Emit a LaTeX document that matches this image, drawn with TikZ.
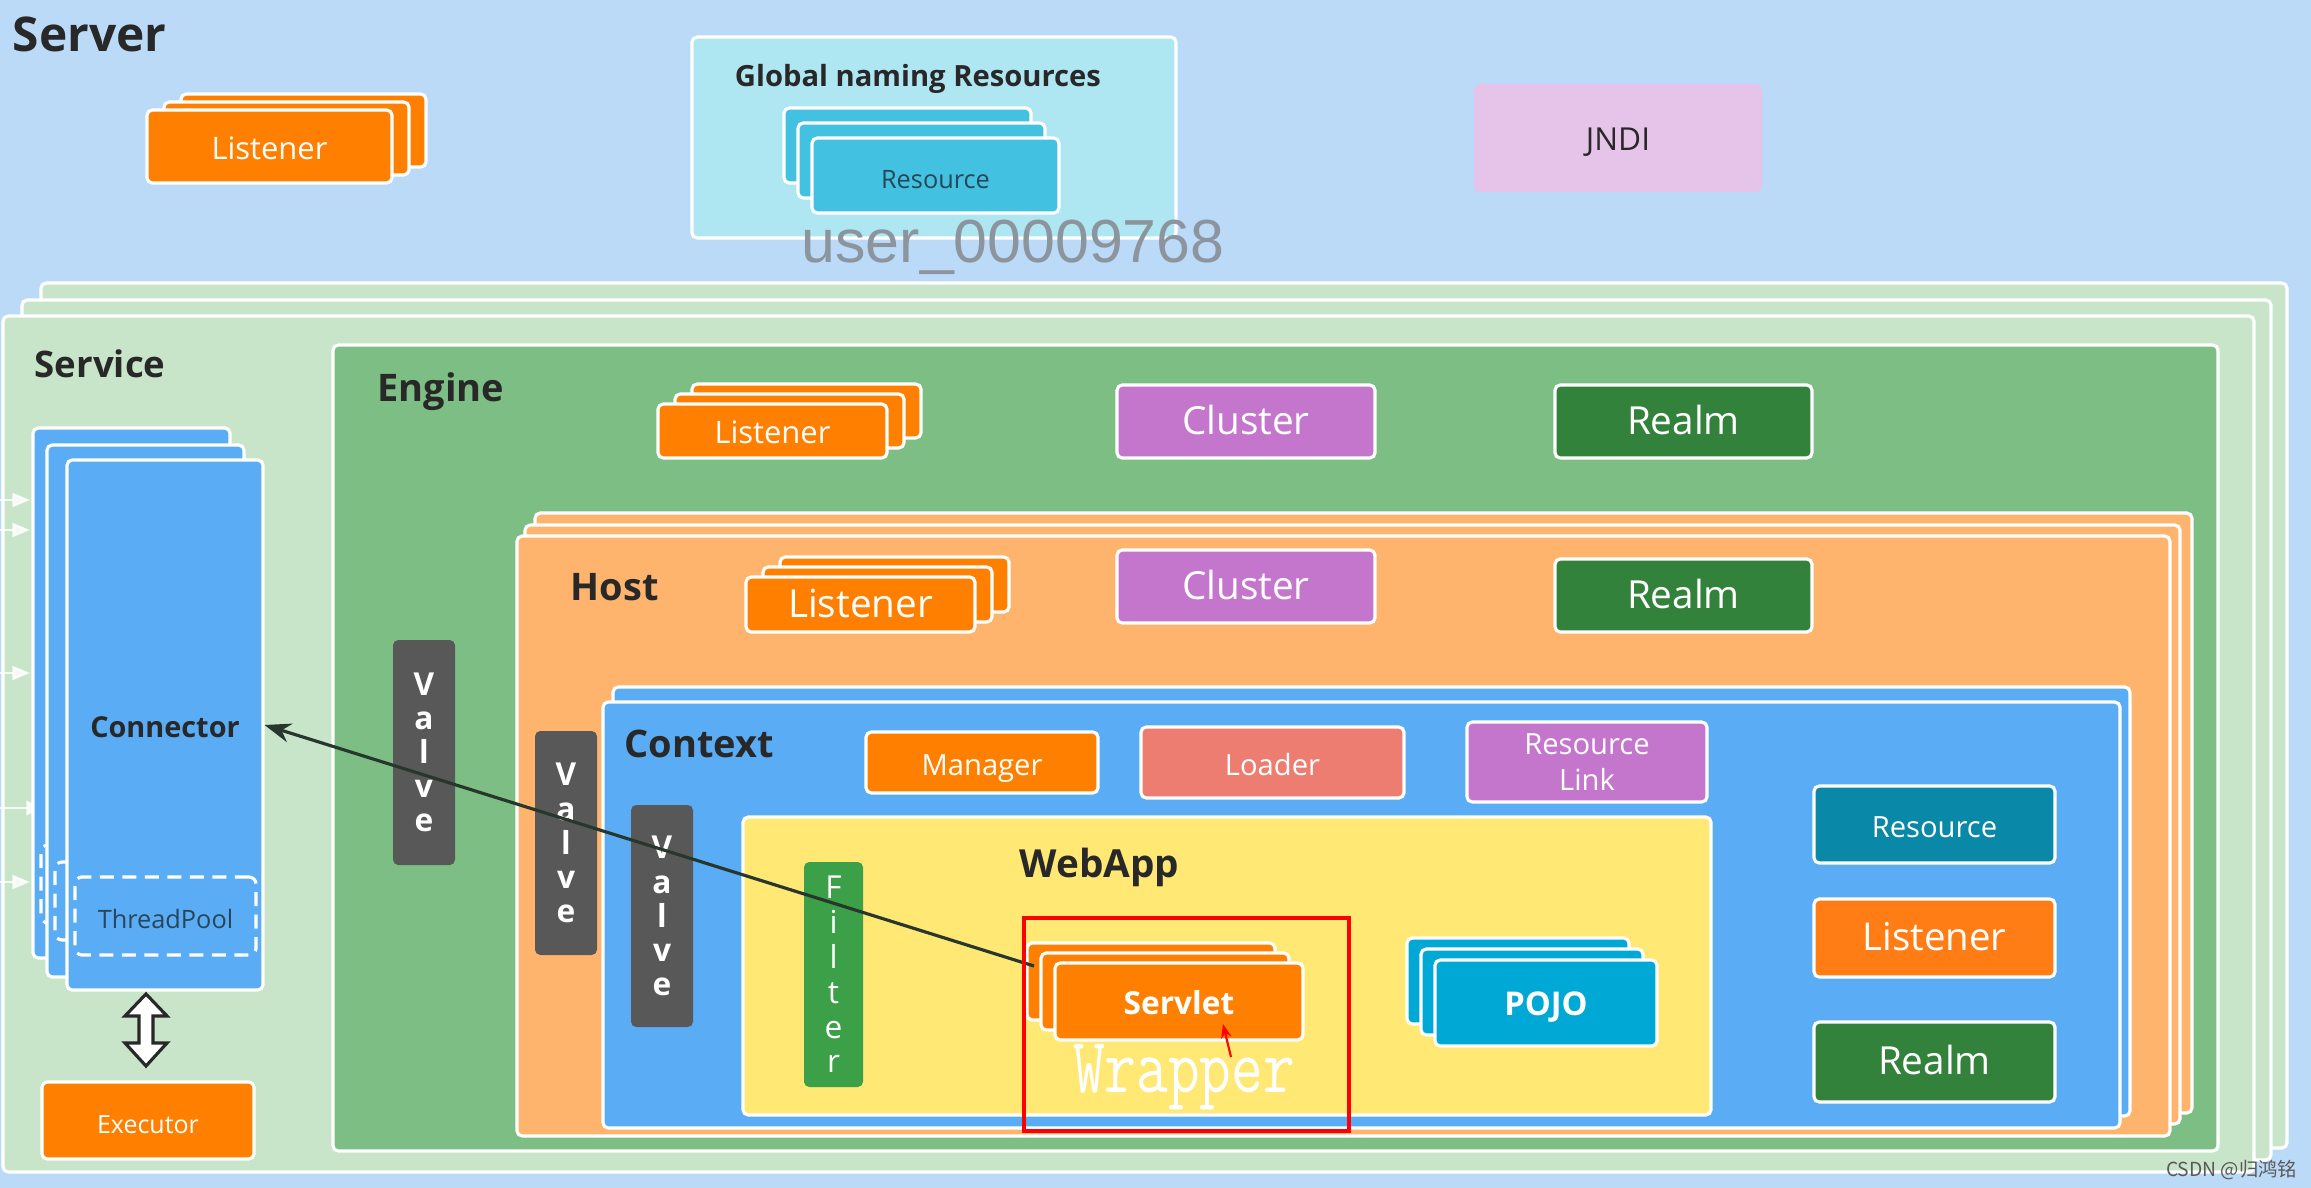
\documentclass[tikz,border=0pt]{standalone}
\usepackage{fontspec}
\setmainfont{Open Sans}
\newfontfamily\wmfont{Liberation Sans}
\newfontfamily\cjkfont{Noto Sans CJK SC}
\usetikzlibrary{fit,arrows.meta}
\definecolor{bgblue}{RGB}{186,218,248}
\definecolor{gnr}{RGB}{174,230,242}
\definecolor{rescyan}{RGB}{66,194,224}
\definecolor{jndi}{RGB}{230,196,234}
\definecolor{svcg}{RGB}{200,228,201}
\definecolor{engg}{RGB}{125,190,132}
\definecolor{hosto}{RGB}{255,180,110}
\definecolor{ctxb}{RGB}{90,172,245}
\definecolor{webapp}{RGB}{255,232,115}
\definecolor{orng}{RGB}{255,128,0}
\definecolor{purp}{RGB}{195,118,204}
\definecolor{realmg}{RGB}{50,130,60}
\definecolor{loaderc}{RGB}{236,125,112}
\definecolor{tealc}{RGB}{10,136,168}
\definecolor{lisr}{RGB}{255,125,20}
\definecolor{valveg}{RGB}{88,88,88}
\definecolor{filterg}{RGB}{60,160,72}
\definecolor{pojoc}{RGB}{0,168,214}
\definecolor{ttlc}{RGB}{40,40,40}
\definecolor{arrowc}{RGB}{40,55,45}
\definecolor{wmgray}{RGB}{140,148,158}
\definecolor{restext}{RGB}{40,70,90}
\newcommand\myfs[1]{\fontsize{#1}{#1}\selectfont}
% box with separate centred label
\newcommand\tbox[8]{%
 \node[#2, fit={(#3,#4) (#5,#6)}] (#1) {};
 \node[lbl, #7] (#1-t) at (#1.center) {#8};}
% stack of three boxes, label on the front one
\newcommand\mystack[9]{%
 \node[#2, fit={({#3+2*(#7)},{#4+2*(#8)}) ({#5+2*(#7)},{#6+2*(#8)})}] (#1-c) {};
 \node[#2, fit={({#3+#7},{#4+#8}) ({#5+#7},{#6+#8})}] (#1-b) {};
 \node[#2, fit={(#3,#4) (#5,#6)}] (#1) {};
 \node[lbl, #9] (#1-t) at (#1.center) {\tikzstacktext};}
\newcommand\connlayer[5]{%
 \node[connbox, fit={(#2,#3) (#4,#5)}] (#1) {};
 \node[tpbox, fit={({#2+8},{#3+417}) ({#2+189},{#3+495})}] (#1-tp) {};}
\begin{document}
\begin{tikzpicture}[x=0.01cm,y=-0.01cm,
  bx/.style={draw=white, line width=0.9pt, rounded corners=1.5pt, inner sep=0pt},
  lbl/.style={inner sep=0pt, text=white, align=center, text height=0.714em, text depth=0pt},
  multi/.style={text height={}, text depth={}},
  obox/.style={bx, fill=orng},
  cyanbox/.style={bx, fill=rescyan},
  purplebox/.style={bx, fill=purp},
  realmbox/.style={bx, fill=realmg},
  svcbox/.style={bx, fill=svcg},
  connbox/.style={bx, fill=ctxb},
  tpbox/.style={draw=white, line width=0.9pt, dash pattern=on 4pt off 2.4pt, rounded corners=2pt, inner sep=0pt},
  hostbox/.style={bx, fill=hosto},
  ctxbox/.style={bx, fill=ctxb},
  valvebox/.style={bx, draw=none, fill=valveg},
  valvetext/.style={multi, font=\bfseries\fontsize{9}{9.7}\selectfont},
  ttl/.style={text=ttlc, anchor=base west, inner sep=0pt, font=\bfseries\myfs{10.8}},
  bigarr/.style={draw=arrowc, line width=0.9pt, -{Stealth[length=7.5pt,width=5.5pt]}},
  edgearr/.style={draw=white, line width=0.6pt, opacity=0.85, -{Triangle[length=5pt,width=4pt]}}
]
\useasboundingbox (0,0) rectangle (2311,1188);
\fill[bgblue] (0,0) rectangle (2311,1188);

% Server level
\node[ttl, font=\bfseries\myfs{13.6}] (server) at (12,52) {Server};
\def\tikzstacktext{Listener}
\mystack{slis}{obox}{147}{110}{392}{183}{17}{-8}{font=\myfs{8.8}}
\node[bx, fill=gnr, fit={(692,37) (1176,238)}] (gnr) {};
\node[ttl, anchor=base, font=\bfseries\myfs{8.3}] (gnrt) at (918,87) {Global naming Resources};
\def\tikzstacktext{Resource}
\mystack{gres}{cyanbox}{812}{138}{1059}{213}{-14}{-15}{font=\myfs{7.2}, text=restext}
\tbox{jndi}{bx, draw=none, fill=jndi}{1474}{84}{1762}{192}{font=\myfs{9}, text=ttlc}{JNDI}

% Service layers
\node[svcbox, fit={(41,283) (2287,1148)}] (svc-c) {};
\node[svcbox, fit={(22,300) (2271,1160)}] (svc-b) {};
\node[svcbox, fit={(3,316) (2254,1172)}] (svc) {};
\node[ttl, font=\bfseries\myfs{10.4}] (svct) at (34,377) {Service};

% edge arrows
\foreach \yy/\xx [count=\i] in {500/30,530/30,673/30,808/44,882/30}{
  \coordinate (ea\i) at (0,\yy);
  \coordinate (eb\i) at (\xx,\yy);
  \draw[edgearr] (ea\i) -- (eb\i);
}

% Connector stack
\connlayer{conn-c}{33}{428}{230}{958}
\connlayer{conn-b}{47}{445}{244}{977}
\tbox{conn}{connbox}{67}{460}{263}{990}{font=\bfseries\myfs{8.2}, text=ttlc}{Connector}
\tbox{tp}{tpbox}{75}{877}{256}{955}{font=\myfs{7.2}, text=restext}{ThreadPool}
\tbox{exec}{obox}{42}{1082}{254}{1159}{font=\myfs{7.1}}{Executor}
\draw[fill=white, draw=ttlc, line width=0.9pt, line join=miter]
  (146,994) -- (167,1016) -- (153,1016) -- (153,1043) -- (167,1043) -- (146,1066)
  -- (125,1043) -- (139,1043) -- (139,1016) -- (125,1016) -- cycle;

% Engine
\node[bx, fill=engg, fit={(333,345) (2218,1151)}] (engine) {};
\node[ttl] (enginet) at (377,402) {Engine};
\def\tikzstacktext{Listener}
\mystack{elis}{obox}{658}{404}{887}{458}{17}{-10}{font=\myfs{8.8}}
\tbox{ecl}{purplebox}{1117}{385}{1375}{458}{font=\myfs{11}}{Cluster}
\tbox{erealm}{realmbox}{1555}{385}{1812}{458}{font=\myfs{11}}{Realm}
\tbox{ev}{valvebox}{393}{640}{455}{865}{valvetext}{V\\a\\l\\v\\e}

% Host
\node[hostbox, fit={(535,513) (2192,1113)}] (host-c) {};
\node[hostbox, fit={(525,525) (2180,1124)}] (host-b) {};
\node[hostbox, fit={(517,536) (2170,1136)}] (host) {};
\node[ttl] (hostt) at (570,600) {Host};
\mystack{hlis}{obox}{746}{577}{975}{632}{17}{-10}{font=\myfs{11}}
\tbox{hcl}{purplebox}{1117}{550}{1375}{623}{font=\myfs{11}}{Cluster}
\tbox{hrealm}{realmbox}{1555}{559}{1812}{632}{font=\myfs{11}}{Realm}
\tbox{hv}{valvebox}{535}{731}{597}{955}{valvetext}{V\\a\\l\\v\\e}

% Context
\node[ctxbox, fit={(613,687) (2130,1116)}] (ctx-b) {};
\node[ctxbox, fit={(603,702) (2120,1128)}] (ctx) {};
\node[ttl] (ctxt) at (624,757) {Context};
\tbox{cv}{valvebox}{631}{805}{693}{1027}{valvetext}{V\\a\\l\\v\\e}
\tbox{mgr}{obox}{866}{732}{1098}{793}{font=\myfs{8.3}}{Manager}
\tbox{ldr}{bx, fill=loaderc}{1141}{727}{1404}{798}{font=\myfs{8.3}}{Loader}
\tbox{rlink}{purplebox}{1467}{722}{1707}{802}{multi, font=\fontsize{8.3}{10}\selectfont}{Resource\\Link}
\tbox{cres}{bx, fill=tealc}{1814}{786}{2055}{863}{font=\myfs{8.3}}{Resource}
\tbox{clis}{bx, fill=lisr}{1814}{899}{2055}{977}{font=\myfs{10.9}}{Listener}
\tbox{crealm}{realmbox}{1814}{1022}{2055}{1102}{font=\myfs{11}}{Realm}

% WebApp
\node[bx, fill=webapp, fit={(743,817) (1711,1115)}] (webapp) {};
\node[ttl, font=\bfseries\myfs{11}] (webappt) at (1019,877) {WebApp};
\tbox{filter}{bx, draw=none, fill=filterg}{804}{862}{863}{1087}{multi, font=\fontsize{9}{9.9}\selectfont}{F\\i\\l\\t\\e\\r}
\def\tikzstacktext{Servlet}
\mystack{srv}{obox}{1055}{963}{1303}{1040}{-14}{-10}{font=\bfseries\myfs{9}}
\def\tikzstacktext{POJO}
\mystack{pojo}{bx, fill=pojoc}{1435}{960}{1657}{1046}{-14}{-11}{font=\bfseries\myfs{9.3}}

% request arrow
\coordinate (srvin) at (1034,966);
\draw[bigarr] (srvin) -- (conn.east);

% Wrapper
\node[draw=red, line width=1pt, inner sep=0pt, fit={(1024,918) (1349,1131)}] (wrapbox) {};
\node[text=white, inner sep=0pt, font=\ttfamily\myfs{17.5}] (wrap) at (1184,1077) {\scalebox{1}[1.28]{Wrapper}};
\coordinate (wa1) at (1231,1057);
\coordinate (wa2) at (1223,1024);
\draw[red, line width=0.6pt, -{Stealth[length=4pt,width=3pt]}] (wa1) -- (wa2);

% watermark texts
\node[font=\wmfont\myfs{17.3}, text=wmgray, anchor=base west, inner sep=0pt] (user) at (801,263) {user\_00009768};
\node[font=\cjkfont\myfs{5.5}, text=black!65, anchor=east, inner sep=0pt] (csdn) at (2298,1170) {CSDN @归鸿铭};
\end{tikzpicture}
\end{document}
